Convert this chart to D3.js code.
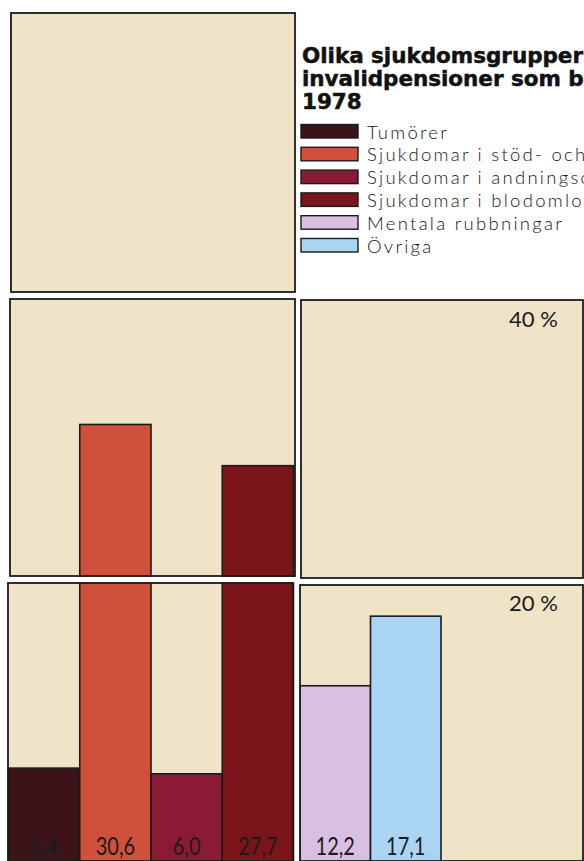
<!DOCTYPE html>
<html>
<head>
<meta charset="utf-8">
<script src="https://cdn.jsdelivr.net/npm/d3@7"></script>
<style>
  html, body { margin: 0; padding: 0; background: #ffffff; overflow: hidden; }
  svg { display: block; }
</style>
</head>
<body>
<svg id="chart" width="584" height="861"></svg>
<script>
// ---------- data ----------
const categories = [
  "Tumörer",
  "Sjukdomar i stöd- och rörelseorganen",
  "Sjukdomar i andningsorganen",
  "Sjukdomar i blodomloppsorganen",
  "Mentala rubbningar",
  "Övriga"
];
const values = [6.4, 30.6, 6.0, 27.7, 12.2, 17.1];
const valueLabels = ["6,4", "30,6", "6,0", "27,7", "12,2", "17,1"];
const leftGroup = categories.slice(0, 4);
const rightGroup = categories.slice(4);
const percentTicks = [40, 20];
const percentLabels = ["40 %", "20 %"];
const titleLines = ["Olika sjukdomsgrupper", "invalidpensioner som beviljades", "1978"];

// ---------- styles ----------
const colors = ["#3a1418", "#d0513b", "#8b1b35", "#7c151b", "#d9c0e2", "#a9d5f3"];
const cream = "#f0e4c8";
const ink = "#1b1b1b";
const lightFont = "Lato, 'Open Sans', sans-serif";

const svg = d3.select("#chart");

// panels (layout frames)
const panels = [
  {x: 11, y: 13, w: 284, h: 279},
  {x: 10, y: 299, w: 285, h: 277},
  {x: 301, y: 300, w: 282, h: 278},
  {x: 8, y: 583, w: 285, h: 278},
  {x: 300, y: 585, w: 283, h: 276}
];

// scales
const y = d3.scaleLinear().domain([0, 40]).range([859, 291]);
const xLeft = d3.scaleBand().domain(leftGroup).range([8.5, 293.5]).padding(0);
const xRight = d3.scaleBand().domain(rightGroup).range([300, 441]).padding(0);
const xOf = c => leftGroup.includes(c) ? xLeft(c) : xRight(c);
const wOf = c => leftGroup.includes(c) ? xLeft.bandwidth() : xRight.bandwidth();
const color = d3.scaleOrdinal().domain(categories).range(colors);

// panel fills
svg.append("g").selectAll("rect").data(panels).join("rect")
  .attr("x", d => d.x).attr("y", d => d.y).attr("width", d => d.w).attr("height", d => d.h)
  .attr("fill", cream);

// bars
const data = categories.map((c, i) => ({c, v: values[i], label: valueLabels[i]}));
svg.append("g").selectAll("rect").data(data).join("rect")
  .attr("x", d => xOf(d.c))
  .attr("y", d => y(d.v))
  .attr("width", d => wOf(d.c))
  .attr("height", d => y(0) - y(d.v) + 4)
  .attr("fill", d => color(d.c))
  .attr("stroke", ink)
  .attr("stroke-width", 1.6);

// white gaps between panels
svg.append("rect").attr("x", 0).attr("y", 577).attr("width", 584).attr("height", 5.5).attr("fill", "#ffffff");
svg.append("rect").attr("x", 295.8).attr("y", 294).attr("width", 4).attr("height", 567).attr("fill", "#ffffff");

// panel borders
svg.append("g").selectAll("rect").data(panels).join("rect")
  .attr("x", d => d.x).attr("y", d => d.y).attr("width", d => d.w).attr("height", d => d.h)
  .attr("fill", "none").attr("stroke", ink).attr("stroke-width", 1.8);

// bar value labels (tall, narrow digits)
const vl = svg.append("g").selectAll("text").data(data).join("text")
  .attr("x", d => xOf(d.c) + wOf(d.c) / 2)
  .attr("y", 854.5)
  .attr("text-anchor", "middle")
  .attr("font-family", lightFont)
  .attr("font-weight", 400)
  .attr("font-size", 25)
  .attr("fill", ink)
  .text(d => d.label);
vl.each(function() {
  const w = this.getComputedTextLength();
  d3.select(this).attr("textLength", w * 0.8).attr("lengthAdjust", "spacingAndGlyphs");
});

// percent labels
const pl = svg.append("g").selectAll("text").data(percentTicks).join("text")
  .attr("x", 558)
  .attr("y", d => y(d) + 36)
  .attr("text-anchor", "end")
  .attr("font-family", lightFont)
  .attr("font-weight", 400)
  .attr("font-size", 21)
  .attr("fill", ink)
  .text((d, i) => percentLabels[i]);
pl.each(function() {
  d3.select(this).attr("textLength", 49).attr("lengthAdjust", "spacingAndGlyphs");
});

// title
const tt = svg.append("g").selectAll("text").data(titleLines).join("text")
  .attr("x", 302)
  .attr("y", (d, i) => 62.5 + i * 23.3)
  .attr("font-family", "'DejaVu Sans', Verdana, sans-serif")
  .attr("font-weight", 700)
  .attr("font-size", 21.5)
  .attr("fill", "#111")
  .attr("stroke", "#111")
  .attr("stroke-width", 0.5)
  .text(d => d);
{
  const w = tt.filter((d, i) => i === 0).node().getComputedTextLength();
  const ls = (281 - w) / titleLines[0].length;
  tt.attr("letter-spacing", ls);
}

// legend
const lg = svg.append("g").selectAll("g").data(categories).join("g")
  .attr("transform", (d, i) => `translate(301, ${124.5 + i * 22.8})`);
lg.append("rect")
  .attr("width", 57).attr("height", 13.5)
  .attr("fill", d => color(d))
  .attr("stroke", ink).attr("stroke-width", 1.4);
const lt = lg.append("text")
  .attr("x", 66).attr("y", 14)
  .attr("font-family", "Lato, sans-serif")
  .attr("font-weight", 300)
  .attr("font-size", 18.5)
  .attr("fill", "#151515")
  .text(d => d);
{
  const w = lt.filter(d => d === "Mentala rubbningar").node().getComputedTextLength();
  const ls = (197 - w) / "Mentala rubbningar".length;
  lt.attr("letter-spacing", ls);
}
</script>
</body>
</html>
